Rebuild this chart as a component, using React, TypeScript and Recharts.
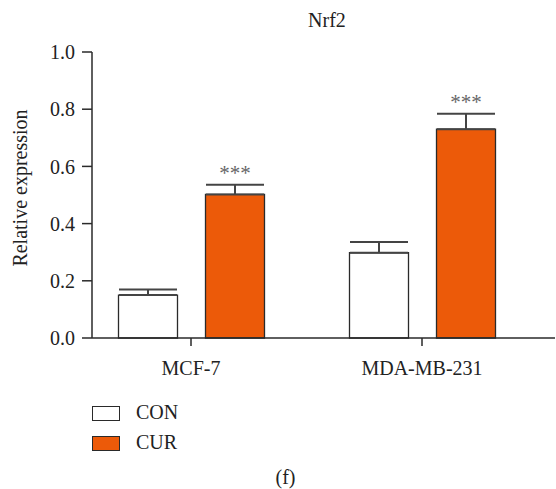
import React from "react";
import { BarChart, Bar, XAxis, YAxis, ErrorBar, LabelList, Label } from "recharts";

const categories = ["MCF-7", "MDA-MB-231"];
const conValues = [0.15, 0.298];
const curValues = [0.502, 0.73];
const conErrors = [0.02, 0.038];
const curErrors = [0.034, 0.054];
const yTicks = [0, 0.2, 0.4, 0.6, 0.8, 1.0];
const significance = ["***", "***"];

const data = categories.map((c, i) => ({
  name: c,
  con: conValues[i],
  cur: curValues[i],
  conErr: [0, conErrors[i]],
  curErr: [0, curErrors[i]],
  sig: significance[i],
}));

const FONT = "'Liberation Serif', 'DejaVu Serif', serif";
const ORANGE = "#EC5A09";
const DARK = "#2a2a2a";
const TEXT = "#222";

const SigLabel = (props: any) => {
  const { x, y, width, height, index } = props;
  const v = curValues[index];
  const pxPerUnit = height / v;
  const errTop = y - curErrors[index] * pxPerUnit;
  return (
    <text
      x={x + width / 2}
      y={errTop - 5}
      textAnchor="middle"
      fontFamily={FONT}
      fontSize={21}
      fill="#666"
    >
      {significance[index]}
    </text>
  );
};

const YLabel = () => (
  <text
    x={27}
    y={188}
    transform="rotate(-90 27 188)"
    textAnchor="middle"
    fontFamily={FONT}
    fontSize={20}
    fill={TEXT}
  >
    Relative expression
  </text>
);

export default function App() {
  return (
    <div style={{ position: "absolute", left: 0, top: 0, width: 556, height: 489, background: "#fff", fontFamily: FONT }}>
      <BarChart
        width={556}
        height={489}
        data={data}
        margin={{ top: 52, right: 1, bottom: 121, left: 0 }}
        barCategoryGap={43}
        barGap={28}
      >
        <XAxis
          dataKey="name"
          padding={{ left: -16.5, right: 17.5 }}
          axisLine={{ stroke: DARK, strokeWidth: 1.5 }}
          tickLine={{ stroke: DARK, strokeWidth: 1.5 }}
          tickSize={8}
          tickMargin={15}
          height={30}
          tick={{ fontFamily: FONT, fontSize: 20, fill: TEXT }}
        />
        <YAxis
          width={92}
          domain={[0, 1]}
          ticks={yTicks}
          tickFormatter={(v: number) => v.toFixed(1)}
          axisLine={{ stroke: DARK, strokeWidth: 1.5 }}
          tickLine={{ stroke: DARK, strokeWidth: 1.5 }}
          tickSize={10}
          tickMargin={7}
          tick={{ fontFamily: FONT, fontSize: 20, fill: TEXT }}
        >
          <Label content={YLabel} />
        </YAxis>
        <Bar dataKey="con" fill="#ffffff" stroke={DARK} strokeWidth={1.3} isAnimationActive={false}>
          <ErrorBar dataKey="conErr" width={29} stroke="#444" strokeWidth={2} direction="y" />
        </Bar>
        <Bar dataKey="cur" fill={ORANGE} stroke={DARK} strokeWidth={1.3} isAnimationActive={false}>
          <ErrorBar dataKey="curErr" width={29} stroke="#444" strokeWidth={2} direction="y" />
          <LabelList dataKey="sig" content={SigLabel} />
        </Bar>
      </BarChart>
      <div style={{ position: "absolute", left: 227, top: 8, width: 200, textAlign: "center", fontSize: 20, color: TEXT, lineHeight: "24px" }}>
        Nrf2
      </div>
      <div style={{ position: "absolute", left: 92, top: 405.5, width: 28, height: 15, boxSizing: "border-box", border: `1.5px solid ${DARK}`, background: "#fff" }} />
      <div style={{ position: "absolute", left: 136, top: 399.5, fontSize: 20, color: TEXT, lineHeight: "24px" }}>CON</div>
      <div style={{ position: "absolute", left: 92, top: 435.5, width: 28, height: 15.5, boxSizing: "border-box", border: `1.5px solid ${DARK}`, background: ORANGE }} />
      <div style={{ position: "absolute", left: 136, top: 429.5, fontSize: 20, color: TEXT, lineHeight: "24px" }}>CUR</div>
      <div style={{ position: "absolute", left: 185.5, top: 465, width: 200, textAlign: "center", fontSize: 20, color: TEXT, lineHeight: "24px" }}>(f)</div>
    </div>
  );
}
